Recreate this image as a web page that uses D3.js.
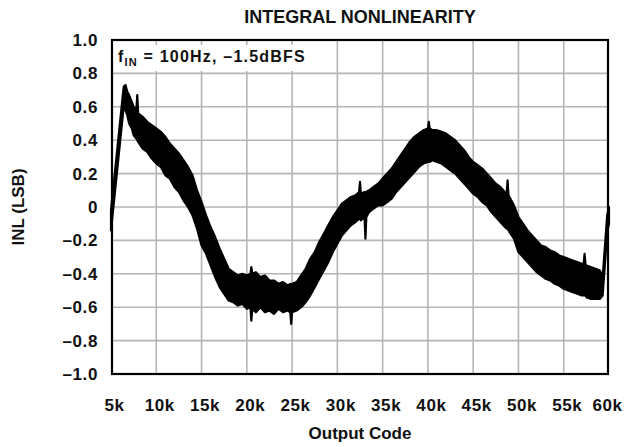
<!DOCTYPE html>
<html>
<head>
<meta charset="utf-8">
<script src="https://cdn.jsdelivr.net/npm/d3@7"></script>
<style>
body { margin: 0; background: #fff; }
text { font-family: "Liberation Sans", Arial, sans-serif; font-weight: bold; fill: #111; }
</style>
</head>
<body>
<svg id="chart" width="624" height="447"></svg>
<script>
// output code where the band edges were read
const codes = [5000, 6400, 6600, 6800, 7000, 7300, 7500, 7800, 7900, 8000,
    8500, 9000, 9500, 10000, 10500, 11000, 11500, 12000, 12500, 13000,
    13500, 14000, 14500, 15000, 15500, 16000, 16500, 17000, 17500, 18000,
    18500, 19000, 19500, 20000, 20400, 20500, 20600, 21000, 21500, 22000,
    22500, 23000, 23500, 24000, 24500, 24800, 24900, 25000, 25500, 26000,
    26500, 27000, 27500, 28000, 28500, 29000, 29500, 30000, 30500, 31000,
    31500, 32000, 32400, 32500, 32600, 33000, 33100, 33200, 33500, 34000,
    34500, 35000, 35500, 36000, 36500, 37000, 37500, 38000, 38500, 39000,
    39500, 40000, 40100, 40200, 40500, 41000, 41500, 42000, 42500, 43000,
    43500, 44000, 44500, 45000, 45500, 46000, 46500, 47000, 47500, 48000,
    48500, 48700, 48800, 48900, 49500, 50000, 50500, 51000, 51500, 52000,
    52500, 53000, 53500, 54000, 54500, 55000, 55500, 56000, 56500, 57000,
    57200, 57300, 57400, 57500, 58000, 58500, 59000, 59300, 59800, 60000];
// top edge of the noisy INL trace (LSB)
const inlUpper = [-0.02, 0.72, 0.73, 0.69, 0.67, 0.63, 0.60, 0.58, 0.67, 0.56,
    0.54, 0.51, 0.49, 0.47, 0.45, 0.42, 0.38, 0.35, 0.32, 0.28,
    0.24, 0.19, 0.10, 0.03, -0.05, -0.12, -0.18, -0.25, -0.31, -0.37,
    -0.39, -0.41, -0.40, -0.41, -0.40, -0.36, -0.40, -0.39, -0.42, -0.41,
    -0.44, -0.44, -0.46, -0.45, -0.47, -0.46, -0.47, -0.46, -0.45, -0.41,
    -0.37, -0.31, -0.27, -0.21, -0.16, -0.11, -0.06, -0.02, 0.02, 0.04,
    0.06, 0.07, 0.09, 0.15, 0.08, 0.09, 0.08, 0.09, 0.10, 0.12,
    0.14, 0.17, 0.20, 0.23, 0.27, 0.31, 0.35, 0.39, 0.42, 0.44,
    0.46, 0.47, 0.51, 0.47, 0.46, 0.46, 0.45, 0.44, 0.42, 0.40,
    0.37, 0.34, 0.30, 0.27, 0.25, 0.23, 0.20, 0.17, 0.14, 0.12,
    0.09, 0.08, 0.16, 0.07, 0.01, -0.06, -0.10, -0.14, -0.17, -0.20,
    -0.23, -0.24, -0.26, -0.27, -0.29, -0.30, -0.31, -0.32, -0.33, -0.34,
    -0.34, -0.28, -0.34, -0.35, -0.36, -0.37, -0.38, -0.42, -0.05, 0.00];
// bottom edge of the noisy INL trace (LSB)
const inlLower = [-0.14, 0.60, 0.58, 0.55, 0.50, 0.47, 0.43, 0.41, 0.40, 0.39,
    0.35, 0.33, 0.29, 0.26, 0.24, 0.19, 0.17, 0.12, 0.09, 0.04,
    0.00, -0.05, -0.13, -0.23, -0.28, -0.35, -0.42, -0.48, -0.52, -0.56,
    -0.57, -0.59, -0.58, -0.61, -0.60, -0.68, -0.61, -0.63, -0.60, -0.63,
    -0.62, -0.64, -0.61, -0.63, -0.62, -0.63, -0.70, -0.63, -0.62, -0.60,
    -0.57, -0.53, -0.48, -0.43, -0.38, -0.33, -0.27, -0.22, -0.17, -0.14,
    -0.11, -0.09, -0.07, -0.07, -0.08, -0.06, -0.19, -0.06, -0.03, -0.01,
    0.01, 0.01, 0.03, 0.05, 0.09, 0.12, 0.15, 0.18, 0.21, 0.24,
    0.26, 0.27, 0.27, 0.27, 0.28, 0.27, 0.26, 0.24, 0.22, 0.20,
    0.17, 0.14, 0.11, 0.08, 0.06, 0.03, 0.01, -0.03, -0.06, -0.09,
    -0.12, -0.13, -0.13, -0.14, -0.19, -0.27, -0.30, -0.33, -0.36, -0.39,
    -0.41, -0.43, -0.44, -0.46, -0.47, -0.49, -0.50, -0.51, -0.52, -0.53,
    -0.53, -0.53, -0.53, -0.54, -0.55, -0.55, -0.55, -0.53, -0.15, -0.10];

const xTicks = [5000, 10000, 15000, 20000, 25000, 30000, 35000, 40000, 45000, 50000, 55000, 60000];
const xTickLabels = ["5k", "10k", "15k", "20k", "25k", "30k", "35k", "40k", "45k", "50k", "55k", "60k"];
const yTicks = [1, 0.8, 0.6, 0.4, 0.2, 0, -0.2, -0.4, -0.6, -0.8, -1];
const yTickLabels = ["1.0", "0.8", "0.6", "0.4", "0.2", "0", "\u20130.2", "\u20130.4", "\u20130.6", "\u20130.8", "\u20131.0"];

const svg = d3.select("#chart");
const W = 624, H = 447;
const margin = {top: 40, right: 15, bottom: 73, left: 111};
const width = W - margin.left - margin.right,
      height = H - margin.top - margin.bottom;

const x = d3.scaleLinear().domain([5000, 60000]).range([0, width]);
const y = d3.scaleLinear().domain([-1, 1]).range([height, 0]);

// soft edge, like the scanned trace
svg.append("defs").append("filter").attr("id", "soft")
    .append("feGaussianBlur").attr("stdDeviation", 0.6);

const g = svg.append("g").attr("transform", "translate(" + margin.left + "," + margin.top + ")");

// grid
g.append("g").selectAll("line").data(xTicks.slice(1, -1)).enter()
    .append("line")
    .attr("x1", d => x(d)).attr("x2", d => x(d))
    .attr("y1", 0).attr("y2", height)
    .attr("stroke", "#b5b5b5").attr("stroke-width", 1.6);
g.append("g").selectAll("line").data(yTicks.slice(1, -1)).enter()
    .append("line")
    .attr("x1", 0).attr("x2", width)
    .attr("y1", d => y(d)).attr("y2", d => y(d))
    .attr("stroke", "#b5b5b5").attr("stroke-width", 1.6);

// white patch behind the condition label
g.append("rect")
    .attr("x", 2).attr("y", 5).attr("width", 205).attr("height", 26)
    .attr("fill", "#fff");

const pts = codes.map((c, i) => ({c: c, hi: inlUpper[i], lo: inlLower[i]}));

const band = d3.area()
    .x(d => x(d.c))
    .y0(d => y(d.lo))
    .y1(d => y(d.hi));

g.append("path")
    .datum(pts)
    .attr("d", band)
    .attr("fill", "#000")
    .attr("stroke", "#000")
    .attr("stroke-width", 2.2)
    .attr("stroke-linejoin", "round")
    .attr("filter", "url(#soft)");

// frame
g.append("rect")
    .attr("x", 1).attr("y", 0)
    .attr("width", width - 2).attr("height", height)
    .attr("fill", "none").attr("stroke", "#000").attr("stroke-width", 2.2);

// axes
const xAxis = d3.axisBottom(x).tickValues(xTicks)
    .tickFormat((d, i) => xTickLabels[i]).tickSize(0).tickPadding(25);
const yAxis = d3.axisLeft(y).tickValues(yTicks)
    .tickFormat((d, i) => yTickLabels[i]).tickSize(0).tickPadding(13);

const gx = g.append("g").attr("transform", "translate(0," + height + ")").call(xAxis);
const gy = g.append("g").call(yAxis);
[gx, gy].forEach(a => {
    a.select(".domain").remove();
    a.selectAll("text").attr("font-size", 17).attr("font-family", null)
        .attr("fill", "#111").attr("letter-spacing", 0.6);
});
gx.selectAll("text").attr("dx", (d, i) => i === xTicks.length - 1 ? -2 : 3);

// labels
svg.append("text")
    .attr("x", margin.left + width / 2).attr("y", 23)
    .attr("text-anchor", "middle").attr("font-size", 18)
    .text("INTEGRAL NONLINEARITY");

svg.append("text")
    .attr("x", margin.left + width / 2).attr("y", 439)
    .attr("text-anchor", "middle").attr("font-size", 17)
    .text("Output Code");

svg.append("text")
    .attr("transform", "translate(24," + (margin.top + height / 2) + ") rotate(-90)")
    .attr("text-anchor", "middle").attr("font-size", 17)
    .text("INL (LSB)");

const cond = svg.append("text")
    .attr("x", margin.left + 7).attr("y", 62)
    .attr("font-size", 16).attr("letter-spacing", 1.2);
cond.append("tspan").text("f");
cond.append("tspan").attr("font-size", 11).attr("dy", 4).text("IN");
cond.append("tspan").attr("dy", -4).text(" = 100Hz, \u20131.5dBFS");
</script>
</body>
</html>
